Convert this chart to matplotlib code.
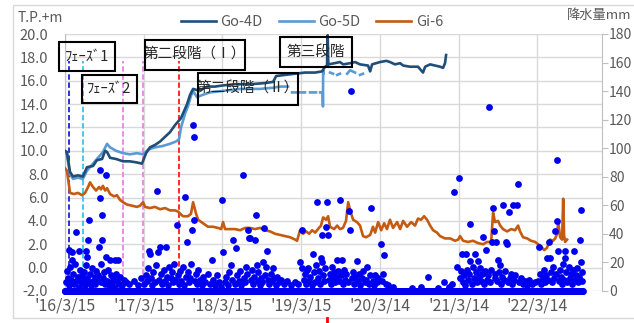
import numpy as np
import pandas as pd
import matplotlib
matplotlib.use("Agg")
import matplotlib.pyplot as plt
from matplotlib.patches import Rectangle
from matplotlib.lines import Line2D

plt.rcParams['font.family'] = ['Noto Sans CJK JP', 'DejaVu Sans']

# day offsets are counted from the first observation day
START = pd.Timestamp('2016-03-15')

# groundwater level T.P.+m : (day, level)
go4d_pts = [(0, 10.0), (9, 9.9), (23, 8.2), (37, 7.8), (60, 7.9), (83, 7.8), (102, 8.6), (130, 8.7),
            (148, 9.2), (172, 9.3), (186, 10.0), (195, 9.9), (209, 9.4), (237, 9.3), (269, 9.1),
            (301, 9.1), (334, 9.0), (357, 8.9), (376, 9.8), (394, 10.3), (417, 10.5), (441, 10.8),
            (464, 11.2), (487, 11.6), (510, 12.2), (524, 12.5), (538, 12.8), (566, 14.0), (580, 14.8),
            (594, 15.3), (612, 15.2), (626, 15.2), (659, 15.5), (696, 15.5), (733, 15.6), (788, 15.7),
            (858, 15.7), (928, 15.8), (965, 15.9), (979, 16.4), (1020, 16.5), (1067, 16.6),
            (1113, 16.7), (1160, 16.7), (1192, 16.8), (1206, 17.2), (1215, 17.3), (1218, 19.9),
            (1221, 17.4), (1250, 17.5), (1275, 17.6), (1290, 17.4), (1322, 17.5), (1345, 17.6),
            (1368, 17.4), (1405, 17.3), (1415, 16.8), (1424, 17.4), (1461, 17.6), (1490, 17.7),
            (1507, 17.6), (1530, 17.4), (1554, 17.5), (1568, 17.3), (1600, 17.2), (1637, 17.2),
            (1660, 16.7), (1670, 17.2), (1693, 17.4), (1716, 17.3), (1739, 17.2), (1753, 17.1),
            (1762, 17.5), (1767, 18.2)]

go5d_pts = [(0, 9.8), (9, 9.7), (23, 8.0), (37, 7.6), (60, 7.7), (83, 7.6), (102, 8.3), (125, 8.8),
            (148, 9.3), (176, 9.9), (195, 10.6), (209, 10.3), (237, 10.0), (269, 9.8), (301, 9.7),
            (334, 9.8), (362, 9.7), (385, 10.1), (417, 10.3), (450, 10.4), (487, 10.6), (515, 10.8),
            (529, 11.0), (538, 12.0), (557, 13.2), (570, 13.8), (584, 14.7), (594, 15.1), (612, 14.6),
            (640, 14.8), (672, 15.0), (719, 15.1), (812, 15.3), (904, 15.3), (965, 15.4), (997, 15.5),
            (1034, 15.5), (1044, None), (1053, 15.0), (1071, 15.0), (1080, None), (1090, 15.0),
            (1113, 15.0), (1125, None), (1136, 15.0), (1164, 15.0), (1173, None), (1183, 15.0),
            (1195, 15.0), (1196, 13.8), (1197, 16.9), (1198, 16.6), (1210, None), (1229, 16.7),
            (1243, 16.6), (1252, None), (1262, 16.5), (1275, 16.6), (1290, None), (1308, 16.6),
            (1322, 16.9), (1345, 16.7), (1355, None), (1368, 16.5), (1382, 16.6)]

gi6_pts = [(0, 8.5), (9, 8.3), (19, 7.0), (23, 6.4), (42, 6.3), (60, 6.4), (79, 6.2), (93, 6.4),
           (107, 6.9), (116, 7.3), (130, 6.9), (144, 6.6), (158, 6.9), (167, 6.7), (176, 7.0),
           (186, 6.6), (195, 6.8), (209, 6.3), (227, 6.1), (241, 6.2), (255, 5.8), (269, 5.6),
           (288, 5.4), (311, 5.3), (334, 5.2), (348, 5.3), (362, 5.6), (371, 5.2), (394, 5.1),
           (417, 5.2), (441, 5.0), (464, 5.1), (487, 4.9), (510, 4.9), (524, 4.8), (547, 4.4),
           (570, 4.4), (584, 4.6), (594, 5.6), (608, 4.6), (617, 4.1), (640, 3.8), (663, 3.5),
           (686, 3.5), (710, 3.4), (724, 3.3), (733, 3.9), (742, 3.3), (765, 3.3), (788, 3.3),
           (812, 3.2), (835, 3.4), (858, 3.4), (881, 3.3), (904, 3.4), (928, 3.2), (951, 3.1),
           (974, 2.9), (997, 2.8), (1020, 2.7), (1044, 2.6), (1067, 2.4), (1076, 2.3), (1090, 3.2),
           (1104, 2.9), (1118, 3.1), (1132, 2.9), (1146, 3.2), (1160, 3.0), (1173, 3.3), (1187, 3.6),
           (1197, 4.3), (1211, 4.1), (1220, 4.4), (1229, 3.5), (1248, 3.3), (1262, 3.6), (1275, 3.3),
           (1289, 3.4), (1303, 4.0), (1313, 5.6), (1322, 4.9), (1336, 4.1), (1354, 3.9), (1368, 3.6),
           (1382, 2.7), (1396, 2.6), (1415, 2.8), (1428, 3.5), (1438, 3.0), (1452, 3.9), (1466, 3.2),
           (1480, 3.8), (1493, 3.3), (1507, 4.1), (1521, 3.4), (1540, 3.9), (1554, 3.3), (1568, 4.0),
           (1586, 3.5), (1605, 3.9), (1623, 3.6), (1637, 4.2), (1651, 4.1), (1665, 4.4), (1679, 4.1),
           (1693, 3.6), (1707, 3.2), (1725, 3.0), (1739, 2.7), (1762, 2.5), (1786, 2.5), (1809, 2.3),
           (1823, 2.4), (1832, 2.7), (1846, 2.3), (1869, 2.2), (1892, 2.3), (1915, 2.1), (1939, 2.0),
           (1957, 2.2), (1976, 2.2), (1985, 4.7), (1994, 3.9), (2008, 4.0), (2018, 3.6), (2031, 3.3),
           (2050, 3.1), (2069, 3.3), (2087, 3.2), (2101, 3.6), (2110, 3.1), (2124, 2.6), (2143, 2.5),
           (2161, 2.3), (2180, 2.2), (2194, 2.0), (2208, 1.8), (2222, 1.5), (2235, 1.7), (2249, 2.4),
           (2263, 2.3), (2273, 2.5), (2282, 2.9), (2287, 3.9), (2296, 2.6), (2305, 2.4), (2310, 5.9),
           (2314, 2.8), (2319, 2.2), (2328, 2.4)]

# daily rainfall mm : (day, mm) for rainy days, all other days are 0
rain_2016 = [(19, 29), (32, 27), (33, 22), (51, 41), (65, 28), (97, 28), (102, 24), (107, 36), (111, 50),
             (158, 31), (160, 65), (162, 85), (170, 36), (172, 53), (190, 81), (192, 24), (209, 22),
             (232, 22), (246, 22), (3, 6), (8, 14), (12, 9), (17, 4), (24, 17), (28, 8), (36, 12),
             (41, 5), (46, 19), (53, 7), (58, 10), (63, 3), (69, 15), (73, 6), (78, 11), (86, 8),
             (90, 13), (95, 4), (99, 18), (104, 9), (113, 6), (118, 12), (122, 4), (126, 16), (131, 7),
             (137, 10), (141, 5), (146, 14), (150, 8), (153, 11), (165, 6), (168, 19), (177, 9),
             (181, 13), (185, 5), (196, 7), (199, 15), (204, 4), (213, 11), (218, 6), (222, 9),
             (229, 3), (237, 12), (241, 7), (250, 5), (257, 10), (266, 4), (273, 8), (281, 6),
             (296, 5), (318, 7), (337, 4), (351, 9)]
rain_2017 = [(390, 28), (395, 26), (427, 70), (431, 27), (441, 31), (468, 31), (519, 46), (557, 66),
             (566, 34), (589, 43), (592, 116), (596, 50), (597, 108), (682, 22), (728, 64), (368, 5),
             (374, 11), (380, 7), (386, 16), (399, 9), (404, 4), (410, 13), (416, 6), (421, 18),
             (436, 8), (446, 12), (451, 5), (457, 15), (462, 7), (474, 10), (479, 4), (484, 17),
             (490, 9), (496, 13), (501, 6), (507, 19), (512, 8), (524, 11), (529, 5), (534, 14),
             (540, 7), (545, 17), (550, 4), (561, 10), (571, 13), (576, 6), (581, 9), (585, 19),
             (601, 7), (606, 12), (612, 5), (618, 15), (625, 8), (633, 4), (641, 10), (650, 6),
             (662, 12), (671, 5), (688, 8), (697, 4), (705, 11), (716, 6), (722, 3)]
rain_2018 = [(733, 27), (770, 18), (779, 36), (793, 30), (826, 81), (840, 17), (849, 43), (853, 37),
             (858, 37), (881, 36), (886, 53), (888, 18), (918, 20), (923, 44), (932, 17), (937, 28),
             (965, 16), (741, 6), (748, 10), (756, 4), (762, 13), (775, 8), (786, 5), (799, 11),
             (806, 7), (812, 14), (818, 4), (831, 9), (835, 6), (845, 12), (862, 8), (867, 15),
             (872, 5), (877, 10), (893, 7), (897, 13), (903, 4), (909, 9), (914, 6), (928, 11),
             (942, 8), (948, 5), (953, 12), (959, 7), (970, 9), (977, 4), (985, 10), (994, 6),
             (1003, 8), (1016, 5), (1030, 7), (1048, 4), (1066, 6), (1080, 5)]
rain_2019 = [(1090, 20), (1099, 43), (1101, 16), (1127, 16), (1150, 26), (1169, 62), (1187, 23),
             (1190, 20), (1192, 39), (1211, 45), (1215, 62), (1218, 39), (1262, 22), (1275, 64),
             (1285, 22), (1317, 56), (1322, 43), (1326, 140), (1354, 21), (1401, 17), (1419, 58),
             (1438, 11), (1106, 8), (1112, 12), (1118, 5), (1123, 15), (1133, 7), (1138, 10),
             (1144, 4), (1156, 13), (1161, 6), (1166, 18), (1174, 9), (1180, 14), (1184, 5),
             (1197, 11), (1202, 7), (1206, 16), (1223, 8), (1228, 12), (1233, 5), (1238, 17),
             (1244, 9), (1249, 13), (1254, 6), (1258, 10), (1267, 14), (1271, 7), (1280, 11),
             (1290, 5), (1295, 15), (1300, 8), (1305, 12), (1311, 6), (1331, 9), (1336, 13),
             (1341, 5), (1346, 10), (1359, 7), (1364, 12), (1370, 4), (1376, 9), (1383, 14),
             (1389, 6), (1395, 8), (1408, 5), (1413, 11), (1426, 7), (1431, 4), (1445, 6), (1452, 9)]
rain_2020 = [(1466, 33), (1480, 25), (1684, 10), (1758, 6), (1804, 69), (1818, 17), (1470, 7),
             (1475, 12), (1487, 5), (1496, 4), (1520, 3), (1610, 2), (1652, 3), (1731, 2), (1782, 3),
             (1795, 5)]
rain_2021 = [(1827, 79), (1841, 26), (1860, 26), (1878, 47), (1880, 21), (1902, 26), (1915, 21),
             (1939, 38), (1953, 29), (1967, 129), (1980, 34), (1985, 58), (1987, 42), (2000, 34),
             (2008, 22), (2017, 18), (2031, 60), (2045, 34), (2050, 33), (2059, 55), (2078, 60),
             (2096, 60), (2101, 75), (1832, 9), (1836, 14), (1846, 6), (1851, 11), (1856, 4),
             (1865, 15), (1870, 8), (1874, 12), (1885, 5), (1890, 17), (1895, 9), (1907, 13),
             (1911, 6), (1920, 10), (1925, 16), (1930, 7), (1934, 12), (1944, 5), (1948, 14),
             (1958, 8), (1962, 11), (1972, 6), (1976, 15), (1992, 9), (1996, 12), (2004, 7),
             (2012, 13), (2022, 5), (2026, 10), (2036, 8), (2040, 14), (2054, 6), (2064, 9),
             (2069, 12), (2073, 5), (2083, 8), (2088, 11), (2106, 6), (2114, 9), (2122, 5),
             (2131, 7), (2140, 4), (2152, 8), (2165, 5), (2178, 6)]
rain_2022 = [(2198, 31), (2235, 23), (2245, 34), (2250, 23), (2273, 42), (2280, 49), (2282, 92),
             (2284, 28), (2319, 23), (2320, 28), (2360, 28), (2389, 36), (2391, 20), (2393, 57),
             (2194, 7), (2203, 12), (2209, 5), (2215, 9), (2221, 15), (2226, 6), (2231, 11),
             (2240, 8), (2255, 13), (2260, 6), (2265, 17), (2269, 9), (2277, 12), (2289, 7),
             (2294, 15), (2298, 10), (2303, 5), (2308, 19), (2313, 8), (2325, 13), (2330, 6),
             (2335, 17), (2340, 9), (2345, 12), (2350, 5), (2355, 15), (2365, 8), (2370, 11),
             (2375, 16), (2380, 6), (2384, 10), (2396, 7), (2399, 13)]
rain_last_day = 2400

# construction stages
stage_dates = ['2016-04-03', '2016-06-06', '2016-12-09', '2017-03-12', '2017-08-26']
stage_colors = ['#1f1fe0', '#3ec0e8', '#e683e6', '#e683e6', '#ff1a1a']

tick_labels = ["'16/3/15", "'17/3/15", "'18/3/15", "'19/3/15", "'20/3/14", "'21/3/14", "'22/3/14"]


def to_series(pts):
    d = START + pd.to_timedelta([p[0] for p in pts], unit='D')
    v = np.array([np.nan if p[1] is None else p[1] for p in pts], dtype=float)
    return d, v


W, H = 634, 323
fig = plt.figure(figsize=(W / 100, H / 100), dpi=100)
ax = fig.add_axes([65 / W, 1 - 291 / H, (602 - 65) / W, (291 - 34) / H])
ax2 = ax.twinx()

gray = '#595959'
grid = '#d9d9d9'

for d, c in zip(stage_dates, stage_colors):
    ax.plot([pd.Timestamp(d)] * 2, [-2, 17.7], color=c, lw=1.3, ls=(0, (3, 1.5)), zorder=3)

x, y = to_series(gi6_pts)
l3, = ax.plot(x, y, color='#c55a11', lw=1.9, label='Gi-6', zorder=4)
x, y = to_series(go5d_pts)
l2, = ax.plot(x, y, color='#5b9bd5', lw=1.9, label='Go-5D', zorder=5)
x, y = to_series(go4d_pts)
l1, = ax.plot(x, y, color='#1f4e79', lw=1.9, label='Go-4D', zorder=5)

# rainfall, one marker per day
rain = np.zeros(rain_last_day + 1)
for yr in [rain_2016, rain_2017, rain_2018, rain_2019, rain_2020, rain_2021, rain_2022]:
    for day, mm in yr:
        rain[day] = mm
rain_days = START + pd.to_timedelta(np.arange(rain_last_day + 1), unit='D')
ax2.scatter(rain_days, rain, s=24, color='#0000f0', linewidths=0, clip_on=False, zorder=6)

ticks = [START + pd.Timedelta(days=365 * i) for i in range(len(tick_labels))]
ax.set_xticks(ticks)
ax.set_xticklabels(tick_labels)
ax.set_xlim(START, START + pd.Timedelta(days=2490))

ax.set_ylim(-2, 20)
ax.set_yticks(np.arange(-2, 20.1, 2))
ax.set_yticklabels([f'{v:.1f}' for v in np.arange(-2, 20.1, 2)])
ax2.set_ylim(0, 180)
ax2.set_yticks(range(0, 181, 20))

ax.grid(True, color=grid, lw=1)
ax.set_axisbelow(True)
ax.tick_params(axis='y', length=0, labelsize=10.5, labelcolor=gray, pad=12)
ax.tick_params(axis='x', length=0, labelsize=11.5, labelcolor=gray, pad=5)
ax2.tick_params(axis='y', length=4, color='#bfbfbf', labelsize=10, labelcolor=gray, pad=1)
for a in (ax, ax2):
    a.spines['top'].set_visible(False)
    a.spines['bottom'].set_visible(False)
ax.spines['left'].set_color('#bfbfbf')
ax.spines['right'].set_visible(False)
ax2.spines['left'].set_visible(False)
ax2.spines['right'].set_color('#bfbfbf')

fig.legend(handles=[l1, l2, l3], loc='center', bbox_to_anchor=(312 / W, 1 - 22 / H), ncol=3,
           frameon=False, fontsize=10.5, handlelength=2.4, handletextpad=0.3, columnspacing=1.1,
           labelcolor=gray)

fig.text(18 / W, 1 - 18 / H, 'T.P.+m', ha='left', va='center', fontsize=10, color=gray)
fig.text(631 / W, 1 - 16 / H, '降水量mm', ha='right', va='center', fontsize=9.5, color=gray)

# stage name boxes, pixel extents on the figure
boxes = [((59, 42, 115, 71), 'ﾌｪｰｽﾞ1'),
         ((82, 75, 137, 103), 'ﾌｪｰｽﾞ2'),
         ((145, 40, 245, 70), '第二段階（Ⅰ）'),
         ((198, 73, 298, 105), '第二段階（Ⅱ）'),
         ((280, 37, 352, 67), '第三段階')]
for (x0, y0, x1, y1), txt in boxes:
    fig.add_artist(Rectangle((x0 / W, 1 - y1 / H), (x1 - x0) / W, (y1 - y0) / H,
                             transform=fig.transFigure, fill=False, ec='black', lw=1.5, zorder=10))
    fig.text((x0 + x1) / 2 / W, 1 - (y0 + y1) / 2 / H, txt, ha='center', va='center',
             fontsize=10.5, color='#262626', zorder=11)

# chart frame
fig.add_artist(Rectangle((13 / W, 1 - 318 / H), 640 / W, 313 / H, transform=fig.transFigure,
                         fill=False, ec='#d9d9d9', lw=1))
fig.add_artist(Line2D([327 / W] * 2, [0, 5 / H], color='red', lw=2))

fig.savefig('out.png', dpi=100)
